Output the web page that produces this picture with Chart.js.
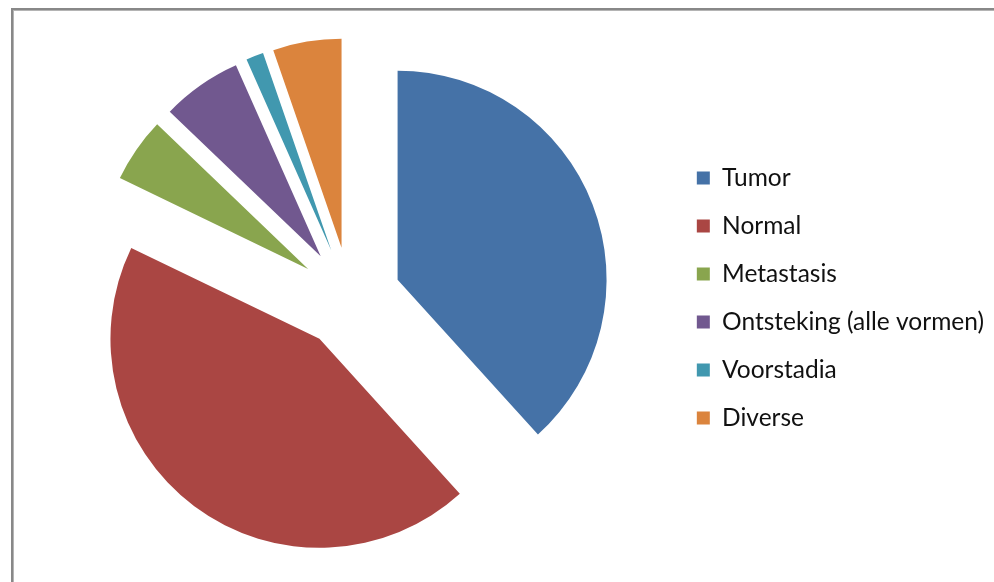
<!DOCTYPE html>
<html><head><meta charset="utf-8">
<script src="https://cdn.jsdelivr.net/npm/chart.js@4/dist/chart.umd.min.js"></script>
<style>html,body{margin:0;padding:0;background:#fff;overflow:hidden}</style>
</head><body>
<canvas id="c" width="994" height="582"></canvas>
<script>
const categories = ['Tumor', 'Normal', 'Metastasis', 'Ontsteking (alle vormen)', 'Voorstadia', 'Diverse'];
const shares = [38.3, 43.9, 5.0, 6.2, 1.35, 5.3];
const sliceColors = ['#4572A7', '#AA4643', '#89A54E', '#71588F', '#4198AF', '#DB843D'];

const EXPLODE = 51;          // px each slice is pulled out along its mid-angle
const PIE_CX = 350;          // desired pie centre x
const FONT = {family: 'Lato', size: 24.5};
const LEG_PAD = 23.5, BOX = 13;
const LEGEND_BOX_X = 699;

// exploded slice element: same radius for every slice, translated outwards
class ExplodedArc extends Chart.ArcElement {
  static id = 'explodedArc';
  draw(ctx) {
    const half = (this.startAngle + this.endAngle) / 2;
    ctx.save();
    ctx.translate(Math.cos(half) * EXPLODE, Math.sin(half) * EXPLODE);
    super.draw(ctx);
    ctx.restore();
  }
}
class ExplodedPie extends Chart.PieController {
  static id = 'explodedPie';
  static defaults = {dataElementType: 'explodedArc'};
}
Chart.register(ExplodedArc, ExplodedPie);

// layout from measured legend width
const mctx = document.createElement('canvas').getContext('2d');
mctx.font = FONT.size + 'px ' + FONT.family;
const maxText = Math.max(...categories.map(t => mctx.measureText(t).width));
const legendWidth = LEG_PAD + BOX + FONT.size / 2 + maxText + 10;
const legendLeft = LEGEND_BOX_X - LEG_PAD;
const padRight = Math.max(0, 994 - legendLeft - legendWidth);
const padLeft = 2 * PIE_CX - (994 - padRight - legendWidth);

const frame = {
  id: 'frame',
  beforeDraw(chart) {
    const ctx = chart.ctx;
    ctx.save();
    ctx.fillStyle = '#fff';
    ctx.fillRect(0, 0, chart.width, chart.height);
    ctx.fillStyle = '#888888';
    ctx.fillRect(11, 8, 994, 2);
    ctx.fillRect(11, 8, 2, 582);
    ctx.fillStyle = '#b4b4b4';
    ctx.fillRect(13, 10, 994, 1);
    ctx.fillRect(13, 10, 1, 582);
    ctx.restore();
  }
};

new Chart(document.getElementById('c'), {
  type: 'explodedPie',
  data: {
    labels: categories,
    datasets: [{
      data: shares,
      backgroundColor: sliceColors,
      borderWidth: 0,
      hoverOffset: 0
    }]
  },
  options: {
    responsive: false,
    animation: false,
    radius: 209,
    clip: false,
    layout: {padding: {left: padLeft, top: 30, bottom: 16, right: padRight}},
    plugins: {
      tooltip: {enabled: false},
      legend: {
        position: 'right',
        labels: {
          font: FONT,
          color: '#111',
          boxWidth: BOX,
          boxHeight: BOX,
          padding: LEG_PAD
        }
      }
    }
  },
  plugins: [frame]
});
</script>
</body></html>
